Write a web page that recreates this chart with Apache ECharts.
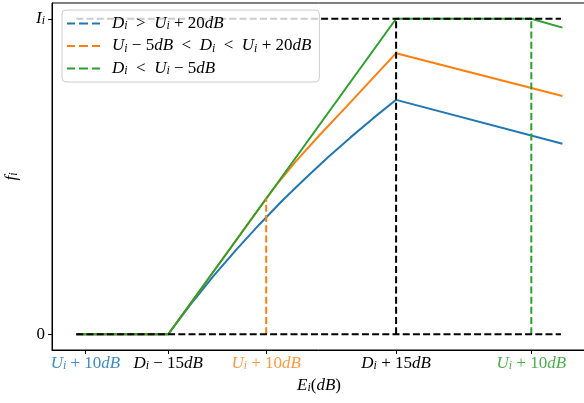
<!DOCTYPE html>
<html>
<head>
<meta charset="utf-8">
<script src="https://cdn.jsdelivr.net/npm/echarts@6/dist/echarts.min.js"></script>
<style>
  html, body { margin: 0; padding: 0; background: #fff; }
  #chart { width: 584px; height: 403px; }
</style>
</head>
<body>
<div id="chart"></div>
<script>
// x in dB relative to D_i, y normalised so that I_i = 1
var blueX = [-27.1, -15, -12, -9, -6, -3, 0, 3, 6, 9, 12, 15, 36.9]
var blueY = [0, 0, 0.096, 0.186, 0.269, 0.348, 0.423, 0.493, 0.560, 0.624, 0.685, 0.743, 0.604]
var orangeX = [-27.1, -15, -2.1, -0.5, 1.8, 5, 8.4, 15, 36.9]
var orangeY = [0, 0, 0.43, 0.481, 0.548, 0.633, 0.72, 0.891, 0.755]
var greenX = [-27.1, -15, 15, 32.8, 36.9]
var greenY = [0, 0, 1, 1, 0.972]
var orangeCutX = [-2.1, -2.1]
var orangeCutY = [0, 0.43]
var greenCutX = [32.8, 32.8]
var greenCutY = [0, 1]
var baseX = [-27.1, 36.7]
var levelX = [-27.1, 36.7]
var peakX = [15, 15]
var peakY = [0, 1]

var xTicks = [-25.9, -15, -2.1, 15, 32.8]
var xTickLabels = [
    "{bI|U}{bS|i}{bR| + 10}{bI|dB}",
    "{kI|D}{kS|i}{kR| − 15}{kI|dB}",
    "{oI|U}{oS|i}{oR| + 10}{oI|dB}",
    "{kI|D}{kS|i}{kR| + 15}{kI|dB}",
    "{gI|U}{gS|i}{gR| + 10}{gI|dB}"
]
var yTicks = [0, 1]
var yTickLabels = ["{kR|0}", "{kI|I}{kS|i}"]
var legendNames = ["blue", "orange", "green"]
var legendLabels = [
    "{kI|D}{kS|i}{kR|  >  }{kI|U}{kS|i}{kR| + 20}{kI|dB}",
    "{kI|U}{kS|i}{kR| − 5}{kI|dB}{kR|  <  }{kI|D}{kS|i}{kR|  <  }{kI|U}{kS|i}{kR| + 20}{kI|dB}",
    "{kI|D}{kS|i}{kR|  <  }{kI|U}{kS|i}{kR| − 5}{kI|dB}"
]

var BLUE = "#1f77b4", ORANGE = "#ff7f0e", GREEN = "#2ca02c"
var FONT = "Liberation Serif"
var DASH = [7, 3.2]

function pairs(xs, ys) {
    return xs.map((x, i) => [x, ys[i]])
}

function richFor(key, color, size) {
    var r = {}
    r[key + "I"] = { fontFamily: FONT, fontStyle: "italic", fontSize: size, color: color, lineHeight: 17 }
    r[key + "R"] = { fontFamily: FONT, fontSize: size, color: color, lineHeight: 17 }
    r[key + "S"] = { fontFamily: FONT, fontStyle: "italic", fontSize: size * 0.7, color: color, lineHeight: 11, verticalAlign: "bottom" }
    return r
}

var rich = Object.assign({},
    richFor("k", "#000", 17),
    richFor("b", "#3d8cc8", 17),
    richFor("o", "#ff9a40", 17),
    richFor("g", "#4cb04c", 17))

function nearestLabel(ticks, labels, v) {
    var best = 0
    ticks.forEach((t, i) => {
        if (Math.abs(t - v) < Math.abs(ticks[best] - v)) best = i
    })
    return labels[best]
}

function lineSeries(name, data, color, dashed, z) {
    return {
        name: name,
        type: "line",
        data: data,
        symbol: "none",
        silent: true,
        z: z,
        lineStyle: { color: color, width: 2, type: dashed ? DASH : "solid" },
        itemStyle: { color: color }
    }
}

var chart = echarts.init(document.querySelector("#chart"))

var option = {
    animation: false,
    grid: {
        left: 52,
        top: 3,
        width: 534,
        height: 347,
        outerBoundsMode: "none",
        show: true,
        borderColor: "#000",
        borderWidth: 1
    },
    legend: {
        data: legendNames,
        orient: "vertical",
        left: 62,
        top: 10,
        z: 10,
        padding: [5, 8, 5, 5],
        itemGap: 5.5,
        itemWidth: 33,
        itemHeight: 2,
        icon: "path://M0,0h8v2h-8z M12,0h9v2h-9z M25,0h8v2h-8z",
        backgroundColor: "rgba(255,255,255,0.8)",
        borderColor: "#cccccc",
        borderWidth: 1,
        borderRadius: 4,
        selectedMode: false,
        formatter: function (name) {
            return legendLabels[legendNames.indexOf(name)]
        },
        textStyle: { rich: rich, padding: [0, 0, 0, 7] }
    },
    xAxis: {
        type: "value",
        min: -30.3,
        max: 40,
        splitLine: { show: false },
        axisLine: { onZero: false, lineStyle: { color: "#000" } },
        axisTick: { customValues: xTicks, length: 4, lineStyle: { color: "#000" } },
        axisLabel: {
            customValues: xTicks,
            margin: 5,
            formatter: function (v) { return nearestLabel(xTicks, xTickLabels, v) },
            rich: rich
        },
        name: "{kI|E}{kS|i}{kR|(}{kI|dB}{kR|)}",
        nameLocation: "middle",
        nameGap: 26,
        nameTextStyle: { rich: rich }
    },
    yAxis: {
        type: "value",
        min: -0.05,
        max: 1.05,
        splitLine: { show: false },
        axisLine: { onZero: false, lineStyle: { color: "#000" } },
        axisTick: { customValues: yTicks, length: 4, lineStyle: { color: "#000" } },
        axisLabel: {
            customValues: yTicks,
            margin: 7,
            formatter: function (v) { return nearestLabel(yTicks, yTickLabels, v) },
            rich: rich
        },
        name: "{kI|f}{kS|i}",
        nameLocation: "middle",
        nameGap: 32,
        nameRotate: 90,
        nameTextStyle: { rich: rich }
    },
    series: [
        lineSeries("blueCurve", pairs(blueX, blueY), BLUE, false, 2),
        lineSeries("orangeCurve", pairs(orangeX, orangeY), ORANGE, false, 2),
        lineSeries("greenCurve", pairs(greenX, greenY), GREEN, false, 2),
        lineSeries("blue", [], BLUE, true, 3),
        lineSeries("orange", pairs(orangeCutX, orangeCutY), ORANGE, true, 3),
        lineSeries("green", pairs(greenCutX, greenCutY), GREEN, true, 3),
        lineSeries("base", pairs(baseX, [0, 0]), "#000", true, 3),
        lineSeries("level", pairs(levelX, [1, 1]), "#000", true, 3),
        lineSeries("peak", pairs(peakX, peakY), "#000", true, 3)
    ]
}

chart.setOption(option)
</script>
</body>
</html>
